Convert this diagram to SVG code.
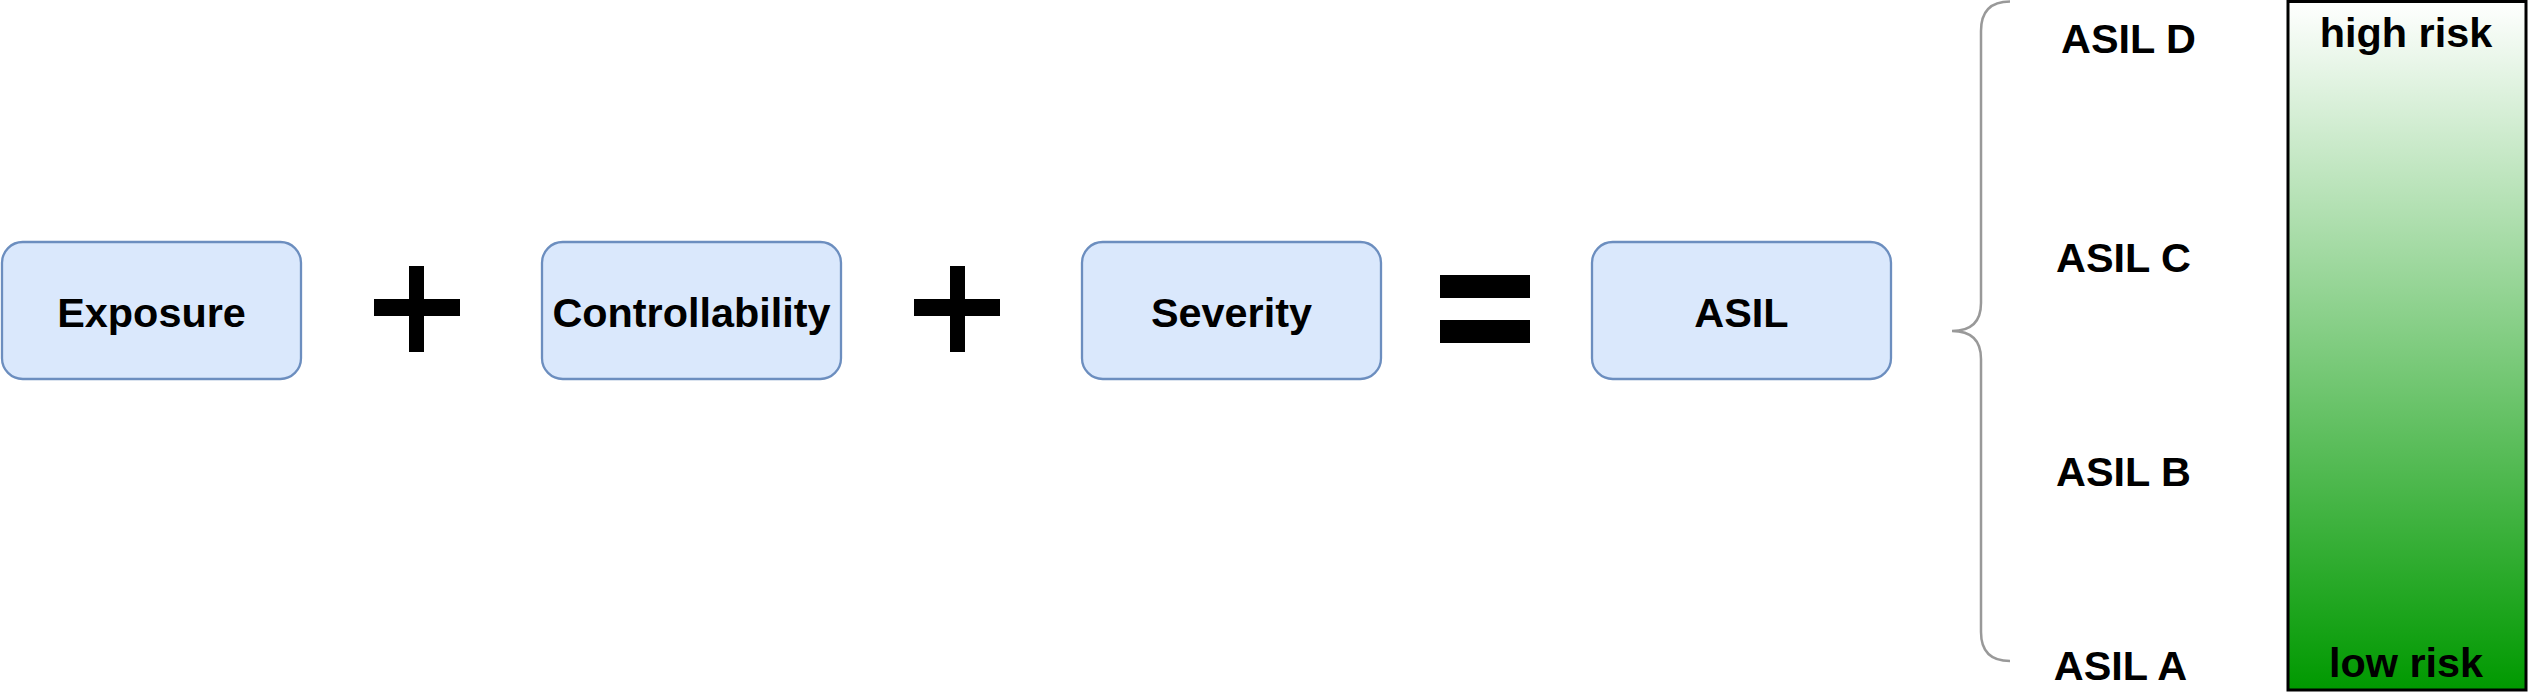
<svg xmlns="http://www.w3.org/2000/svg" width="2529" height="696" viewBox="0 0 2529 696">
<style>
.box{fill:#dae8fc;stroke:#6c8ebf;stroke-width:2.3}
.lbl{font-family:"Liberation Sans",Arial,Helvetica,sans-serif;font-weight:bold;font-size:41.4px;fill:#000;text-anchor:middle}
.op{fill:#000}
.brace{fill:none;stroke:#999999;stroke-width:2.5}
</style>
<defs>
<linearGradient id="risk" x1="0" y1="0" x2="0" y2="1">
<stop offset="0" stop-color="#ffffff"/>
<stop offset="1" stop-color="#009900"/>
</linearGradient>
</defs>
<g id="exposure">
<rect class="box" x="2" y="242" width="299" height="137" rx="20.7"/>
<text class="lbl" x="151.5" y="327">Exposure</text>
</g>
<g id="plus1">
<rect class="op" x="374" y="299" width="86" height="17"/>
<rect class="op" x="409" y="266" width="15" height="86"/>
</g>
<g id="controllability">
<rect class="box" x="542" y="242" width="299" height="137" rx="20.7"/>
<text class="lbl" x="691.5" y="327">Controllability</text>
</g>
<g id="plus2">
<rect class="op" x="914" y="299" width="86" height="17"/>
<rect class="op" x="950" y="266" width="15" height="86"/>
</g>
<g id="severity">
<rect class="box" x="1082" y="242" width="299" height="137" rx="20.7"/>
<text class="lbl" x="1231.5" y="327">Severity</text>
</g>
<g id="equals">
<rect class="op" x="1440" y="275" width="90" height="23"/>
<rect class="op" x="1440" y="320" width="90" height="23"/>
</g>
<g id="asil">
<rect class="box" x="1592" y="242" width="299" height="137" rx="20.7"/>
<text class="lbl" x="1741.5" y="327">ASIL</text>
</g>
<g id="connectors">
<path class="brace" d="M 2010 1.5 Q 1981 1.5 1981 31 L 1981 303 Q 1981 331 1952 331 Q 1981 331 1981 359 L 1981 632 Q 1981 661 2010 661"/>
</g>
<g id="asil-levels">
<text class="lbl" x="2128.5" y="53">ASIL D</text>
<text class="lbl" x="2123.5" y="272">ASIL C</text>
<text class="lbl" x="2123.5" y="486">ASIL B</text>
<text class="lbl" x="2120.5" y="680">ASIL A</text>
</g>
<g id="risk-scale">
<rect x="2288" y="1.5" width="238" height="688.5" fill="url(#risk)" stroke="#000" stroke-width="3"/>
<text class="lbl" x="2406" y="47">high risk</text>
<text class="lbl" x="2406" y="677">low risk</text>
</g>
</svg>
